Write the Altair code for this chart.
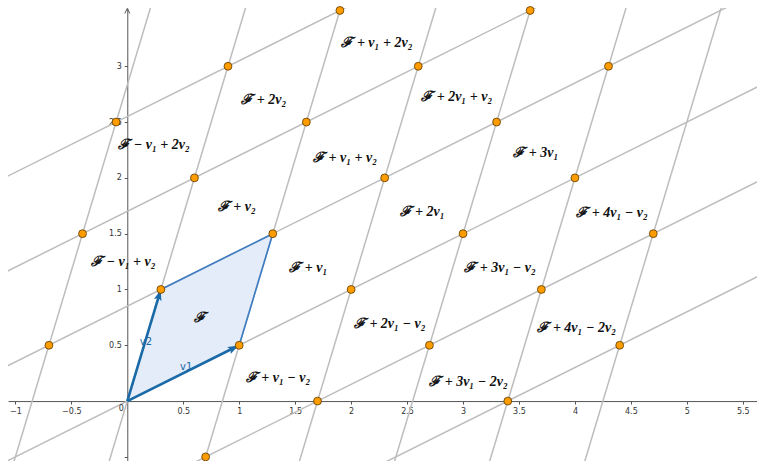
import altair as alt
import pandas as pd
import numpy as np

# ---------------- data ----------------
V1 = (1.0, 0.5)
V2 = (0.3, 1.0)

X_DOMAIN = [-1.066, 5.627]
Y_DOMAIN = [-0.537, 3.522]
X_TICKS = [-1, -0.5, 0.5, 1, 1.5, 2, 2.5, 3, 3.5, 4, 4.5, 5, 5.5]
Y_TICKS = [-0.5, 0.5, 1, 1.5, 2, 2.5, 3]

# lattice lines: parallel to v1 through n*v2, parallel to v2 through m*v1
V1_LINES_N = [-2, -1, 0, 1, 2, 3]
V2_LINES_M = [-1, 0, 1, 2, 3, 4, 5]
LINE_PARAM = [-4, 8]

# marked lattice points m*v1 + n*v2
PT_M = [1, 0, 1, -1, -1, -1, 0, 0, 1, 1, 2, 2, 2, 2, 1, 3, 3, 3, 3, 4, 4, 4, 4, 5, 5]
PT_N = [0, 1, 1, 1, 2, 3, 2, 3, 2, 3, 0, 1, 2, -1, -1, -1, 0, 1, 2, -2, -1, 0, 1, -2, -1]

# region labels (position)
LBL_TEXT = ["ℱ", "ℱ + v₂", "ℱ − v₁ + v₂", "ℱ − v₁ + 2v₂", "ℱ + 2v₂",
            "ℱ + v₁ + 2v₂", "ℱ + 2v₁ + v₂", "ℱ + 3v₁", "ℱ + v₁ + v₂",
            "ℱ + 2v₁", "ℱ + 4v₁ − v₂", "ℱ + v₁", "ℱ + 3v₁ − v₂",
            "ℱ + 2v₁ − v₂", "ℱ + 4v₁ − 2v₂", "ℱ + v₁ − v₂", "ℱ + 3v₁ − 2v₂"]
LBL_X = [0.650, 0.978, -0.036, 0.239, 1.220, 2.231, 2.944, 3.651, 1.946,
         2.634, 4.332, 1.618, 3.331, 2.345, 4.016, 1.347, 3.049]
LBL_Y = [0.742, 1.737, 1.249, 2.295, 2.698, 3.211, 2.728, 2.220, 2.178,
         1.692, 1.685, 1.190, 1.190, 0.688, 0.658, 0.207, 0.174]

VEC_NAMES = ["v1", "v2"]
VEC_LABEL_X = [0.526, 0.167]
VEC_LABEL_Y = [0.308, 0.532]

# ---------------- layout ----------------
W, H = 749, 453
PAD_L, PAD_T = 8, 8
sx = W / (X_DOMAIN[1] - X_DOMAIN[0])
sy = H / (Y_DOMAIN[1] - Y_DOMAIN[0])
x_axis_offset = -(H - (Y_DOMAIN[1] - 0) * sy)
y_axis_offset = -((0 - X_DOMAIN[0]) * sx)

xs = alt.Scale(domain=X_DOMAIN, nice=False, zero=False)
ys = alt.Scale(domain=Y_DOMAIN, nice=False, zero=False)

v1 = np.array(V1)
v2 = np.array(V2)

# grid lines
rows = []
for n in V1_LINES_N:
    for t in LINE_PARAM:
        p = t * v1 + n * v2
        rows.append({"id": f"a{n}", "x": p[0], "y": p[1]})
for m in V2_LINES_M:
    for t in LINE_PARAM:
        p = m * v1 + t * v2
        rows.append({"id": f"b{m}", "x": p[0], "y": p[1]})
grid_df = pd.DataFrame(rows)

# points
pts = [m * v1 + n * v2 for m, n in zip(PT_M, PT_N)]
pts_df = pd.DataFrame({"x": [p[0] for p in pts], "y": [p[1] for p in pts]})

# fundamental domain polygon (area between lower and upper boundaries)
O = np.zeros(2)
A, B, C = v1, v1 + v2, v2
lx, ly = [O[0], A[0], B[0]], [O[1], A[1], B[1]]
ux, uy = [O[0], C[0], B[0]], [O[1], C[1], B[1]]
bx = sorted(set(lx + ux))
poly_df = pd.DataFrame({"x": bx,
                        "lo": np.interp(bx, lx, ly),
                        "hi": np.interp(bx, ux, uy)})

edges_df = pd.DataFrame({"id": ["e1", "e1", "e2", "e2"],
                         "x": [A[0], B[0], C[0], B[0]],
                         "y": [A[1], B[1], C[1], B[1]]})
vec_df = pd.DataFrame({"id": ["v1", "v1", "v2", "v2"],
                       "x": [0, v1[0], 0, v2[0]],
                       "y": [0, v1[1], 0, v2[1]]})

heads = []
for v in (v1, v2):
    tip = 0.95 * v
    ang = np.degrees(np.arctan2(v[0] * sx, v[1] * sy))
    heads.append({"x": tip[0], "y": tip[1], "ang": float(ang)})
head_df = pd.DataFrame(heads)

lbl_df = pd.DataFrame({"x": LBL_X, "y": LBL_Y, "t": LBL_TEXT})
vlbl_df = pd.DataFrame({"x": VEC_LABEL_X, "y": VEC_LABEL_Y, "t": VEC_NAMES})
origin_df = pd.DataFrame({"x": [0], "y": [0], "t": ["0"]})
arrow_df = pd.DataFrame({"x": [0], "y": [Y_DOMAIN[1]]})

X = lambda **k: alt.X("x:Q", scale=xs, **k)
Y = lambda **k: alt.Y("y:Q", scale=ys, **k)

axis_common = dict(domainColor="#555", domainWidth=1, tickColor="#555",
                   tickSize=3, labelColor="#333", labelFontSize=8,
                   labelFont="DejaVu Sans", grid=False, title=None,
                   labelOverlap=False, format="~g")

base_axes = alt.Chart(pts_df).mark_point(opacity=0).encode(
    x=alt.X("x:Q", scale=xs,
            axis=alt.Axis(values=X_TICKS, offset=x_axis_offset, labelPadding=3,
                          labelExpr="replace(datum.label, '-', '−')",
                          **axis_common)),
    y=alt.Y("y:Q", scale=ys,
            axis=alt.Axis(values=Y_TICKS, offset=y_axis_offset, labelPadding=3,
                          labelExpr="datum.value < 0 ? '' : datum.label",
                          **axis_common)),
)

fill = alt.Chart(poly_df).mark_area(color="#e3ecf8", opacity=1).encode(
    x=alt.X("x:Q", scale=xs), y=alt.Y("lo:Q", scale=ys), y2="hi:Q")

grid = alt.Chart(grid_df).mark_line(color="#bdbdbd", strokeWidth=1.5, clip=True).encode(
    x=X(), y=Y(), detail="id:N")

edges = alt.Chart(edges_df).mark_line(color="#3c7cc4", strokeWidth=1.6).encode(
    x=X(), y=Y(), detail="id:N")

vecs = alt.Chart(vec_df).mark_line(color="#1b6aa8", strokeWidth=2.6).encode(
    x=X(), y=Y(), detail="id:N")

heads_m = alt.Chart(head_df).mark_point(
    shape="M0,-1L0.75,1L0,0.6L-0.75,1Z", filled=True, color="#1b6aa8",
    size=110, opacity=1).encode(x=X(), y=Y(), angle=alt.Angle("ang:Q", scale=None))

points = alt.Chart(pts_df).mark_circle(
    size=62, color="#ff9c00", stroke="#5a3a00", strokeWidth=0.8, opacity=1
).encode(x=X(), y=Y())

labels = alt.Chart(lbl_df).mark_text(
    font="Liberation Serif", fontSize=14, fontStyle="italic", fontWeight="bold",
    color="#111", align="center", baseline="middle").encode(x=X(), y=Y(), text="t:N")

vlabels = alt.Chart(vlbl_df).mark_text(
    font="DejaVu Sans", fontSize=10, color="#1b6aa8", align="center",
    baseline="middle").encode(x=X(), y=Y(), text="t:N")

origin = alt.Chart(origin_df).mark_text(
    font="DejaVu Sans", fontSize=8, color="#333", dx=-6, dy=8).encode(
    x=X(), y=Y(), text="t:N")

yarrow = alt.Chart(arrow_df).mark_point(
    shape="M-1,1L0,-1L1,1", filled=False, color="#555", strokeWidth=1,
    size=25, yOffset=3, opacity=1).encode(x=X(), y=Y())

chart = alt.layer(base_axes, fill, grid, edges, vecs, heads_m, points,
                  labels, vlabels, origin, yarrow).properties(
    width=W, height=H,
    autosize=alt.AutoSizeParams(type="none"),
    padding={"left": PAD_L, "top": PAD_T, "right": 0, "bottom": 0},
    background="white",
).configure_view(strokeWidth=0)

chart.save("out.html", embed_options={"renderer": "svg", "actions": False})
